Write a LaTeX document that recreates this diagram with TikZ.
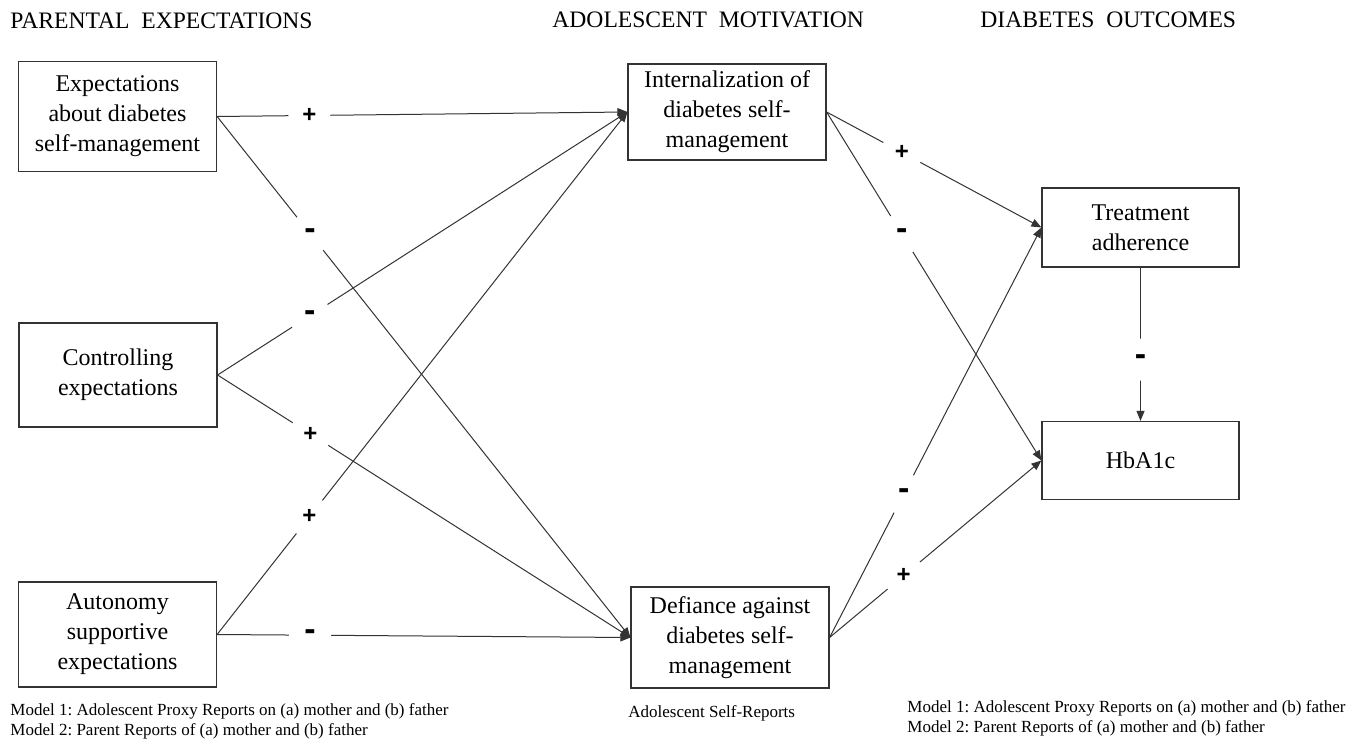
\documentclass[tikz,border=0pt]{standalone}
\usepackage{fontspec}
\setmainfont{Liberation Serif}
\newfontfamily\signfont{Liberation Sans}
\usetikzlibrary{arrows.meta}

\newcommand{\bigminus}{{\fontsize{17}{17}\selectfont -}}

\tikzset{
  box/.style={draw=black!80, line width=0.6pt, align=center, inner sep=0pt,
    minimum width=99pt, font=\fontsize{12}{15}\selectfont},
  conn/.style={draw=black!80, line width=0.5pt, -{Triangle[length=5pt,width=4pt]}},
  sign/.style={circle, fill=white, inner sep=0pt, minimum size=21pt,
    font=\signfont\bfseries\fontsize{12}{12}\selectfont},
  header/.style={anchor=base west, inner sep=0pt, font=\fontsize{11.8}{14}\selectfont},
  note/.style={inner sep=0pt, align=left, font=\fontsize{8.5}{10}\selectfont}
}

\begin{document}
\begin{tikzpicture}[x=0.5pt,y=-0.5pt]
    \useasboundingbox (0,0) rectangle (1364,743);
    %% Headers
    \node[header] (hpar) at (10,29) {PARENTAL\ \ EXPECTATIONS};
    \node[header] (hmot) at (552,28) {ADOLESCENT\ \ MOTIVATION};
    \node[header] (hout) at (980,28) {DIABETES\ \ OUTCOMES};
    %% Parental expectations
    \node[box, minimum height=55pt] (exp) at (117.5,116.5) {Expectations\\about diabetes\\self-management};
    \node[box, minimum height=52pt] (ctrl) at (118,375) {Controlling\\expectations};
    \node[box, minimum height=52.5pt] (auto) at (117.5,634.5) {Autonomy\\supportive\\expectations};
    %% Adolescent motivation
    \node[box, minimum height=48pt] (intern) at (727,112) {Internalization of\\diabetes self-\\management};
    \node[box, minimum height=50.5pt] (defy) at (730,637.5) {Defiance against\\diabetes self-\\management};
    %% Diabetes outcomes
    \node[box, minimum width=98.5pt, minimum height=39.5pt] (treat) at (1140.5,227.5) {Treatment\\adherence};
    \node[box, minimum width=98.5pt, minimum height=39pt] (hba) at (1140.5,460.5) {HbA1c};
    %% Notes
    \node[note, anchor=north west] (nleft) at (10,703.5) {Model 1:\ Adolescent Proxy Reports on (a) mother and (b) father\\Model 2:\ Parent Reports of (a) mother and (b) father};
    \node[note, anchor=base west] (nmid) at (628,717) {Adolescent Self-Reports};
    \node[note, anchor=north west] (nright) at (907,700.5) {Model 1:\ Adolescent Proxy Reports on (a) mother and (b) father\\Model 2:\ Parent Reports of (a) mother and (b) father};
    %% Parents -> motivation
    \foreach \src/\tgt/\s in {exp/intern/+, exp/defy/\bigminus, ctrl/intern/\bigminus, ctrl/defy/+, auto/intern/+, auto/defy/\bigminus}{
        \draw[conn] (\src.east) -- node[sign, pos=.225] {\s} (\tgt.west);
    }
    %% Motivation -> outcomes
    \foreach \src/\tgt/\s in {intern/treat/+, intern/hba/\bigminus, defy/treat/\bigminus, defy/hba/+}{
        \draw[conn] (\src.east) -- node[sign, pos=.35] {\s} (\tgt.west);
    }
    \draw[conn] (treat.south) -- node[sign, pos=.6] {\bigminus} (hba.north);
\end{tikzpicture}
\end{document}
